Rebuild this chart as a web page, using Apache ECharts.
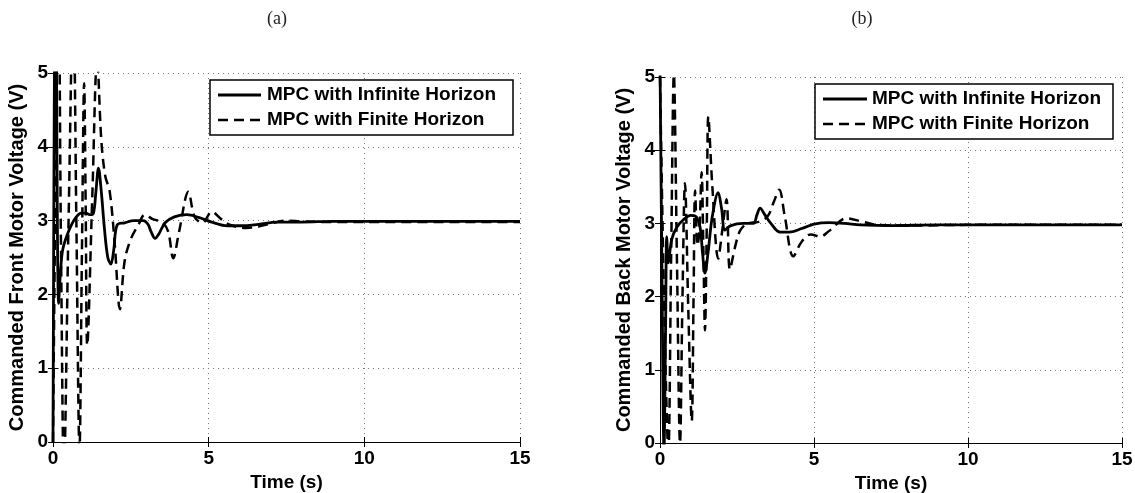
<!DOCTYPE html>
<html><head><meta charset="utf-8">
<script src="https://cdn.jsdelivr.net/npm/echarts@6/dist/echarts.min.js"></script>
<style>html,body{margin:0;padding:0;background:#fff}#c{width:1135px;height:493px}</style>
</head><body><div id="c"></div>
<script>
// ---- data ----
const seriesNames = ['MPC with Infinite Horizon', 'MPC with Finite Horizon'];
const xTicks = [0, 5, 10, 15];
const yTicks = [0, 1, 2, 3, 4, 5];

// (a) front motor, infinite horizon
const tA_inf = [0, 0.04, 0.08, 0.18, 0.24, 0.31, 0.45, 0.6, 0.75, 0.9, 1.05, 1.2, 1.3, 1.38, 1.46, 1.55, 1.65, 1.76, 1.86, 1.95, 2.06, 2.3, 2.6, 2.9, 3.05, 3.15, 3.28, 3.4, 3.6, 3.9, 4.3, 4.7, 5.1, 5.6, 6.1, 6.6, 7.2, 8, 9, 10, 12, 15];
const vA_inf = [0, 4.5, 6.5, 1.88, 2.3, 2.6, 2.8, 2.95, 3.05, 3.1, 3.1, 3.08, 3.1, 3.4, 3.71, 3.4, 2.9, 2.5, 2.41, 2.6, 2.94, 2.97, 3.0, 3.0, 2.95, 2.85, 2.76, 2.82, 2.97, 3.05, 3.08, 3.04, 2.98, 2.93, 2.93, 2.95, 2.98, 2.98, 2.99, 2.99, 2.99, 2.99];
// (a) front motor, finite horizon
const tA_fin = [0, 0.08, 0.17, 0.26, 0.35, 0.5, 0.65, 0.75, 0.85, 0.93, 1.0, 1.05, 1.1, 1.26, 1.42, 1.55, 1.68, 1.82, 1.98, 2.15, 2.3, 2.5, 2.75, 2.95, 3.2, 3.5, 3.7, 3.86, 4.05, 4.35, 4.55, 4.8, 5.1, 5.4, 5.7, 6.2, 6.6, 7.0, 7.5, 8, 9, 15];
const vA_fin = [0, 3.5, 6.5, 2.5, -0.4, 3.0, 6.0, 3.0, -0.1, 2.6, 4.86, 3.2, 1.31, 3.3, 5.2, 4.1, 3.6, 3.4, 2.7, 1.8, 2.45, 2.75, 2.95, 3.08, 3.02, 2.98, 2.85, 2.49, 2.85, 3.39, 3.05, 2.97, 3.12, 3.02, 2.94, 2.9, 2.92, 2.96, 3.0, 2.99, 2.98, 2.98];

// (b) back motor, infinite horizon
const tB_inf = [0, 0.06, 0.13, 0.18, 0.22, 0.27, 0.38, 0.55, 0.76, 1.0, 1.15, 1.3, 1.38, 1.46, 1.56, 1.7, 1.89, 2.0, 2.11, 2.3, 2.7, 3.03, 3.15, 3.25, 3.4, 3.6, 3.9, 4.2, 4.6, 5.0, 5.5, 6.0, 6.5, 7.5, 9, 12, 15];
const vB_inf = [5.2, 2.5, -0.1, 1.5, 2.82, 2.46, 2.78, 2.95, 3.05, 3.11, 3.1, 2.95, 2.6, 2.32, 2.6, 3.1, 3.42, 3.2, 2.91, 2.97, 3.0, 3.0, 3.12, 3.21, 3.12, 3.0, 2.88, 2.88, 2.93, 2.99, 3.01, 3.0, 2.98, 2.97, 2.98, 2.98, 2.98];
// (b) back motor, finite horizon
const tB_fin = [0, 0.13, 0.27, 0.36, 0.45, 0.55, 0.65, 0.73, 0.81, 0.92, 1.03, 1.09, 1.14, 1.22, 1.28, 1.35, 1.41, 1.46, 1.52, 1.57, 1.7, 1.89, 2.02, 2.16, 2.27, 2.45, 2.6, 2.84, 3.2, 3.5, 3.7, 3.87, 4.05, 4.33, 4.6, 4.9, 5.2, 5.5, 6.06, 6.6, 7.05, 8, 10, 15];
const vB_fin = [5.0, 2.0, -0.1, 2.5, 5.03, 2.5, 0.0, 2.0, 3.55, 1.8, 0.3, 2.0, 3.45, 2.7, 2.9, 3.7, 2.6, 1.54, 3.0, 4.46, 3.5, 2.52, 2.9, 3.33, 2.37, 2.7, 2.9, 3.0, 3.02, 3.1, 3.3, 3.46, 3.1, 2.55, 2.75, 2.85, 2.82, 2.9, 3.07, 3.02, 2.98, 2.97, 2.98, 2.98];

const zip = (t, v) => t.map((x, i) => [x, v[i]]);

const FONT = '"Liberation Sans", Arial, sans-serif';
const gridLine = { show: true, lineStyle: { color: '#777', type: [1, 4], width: 1 } };
const lbl = { color: '#000', fontFamily: FONT, fontWeight: 'bold', fontSize: 19 };
const DASH = [10, 6];

function xAxes(gi) {
  return [
    { gridIndex: gi, type: 'value', min: xTicks[0], max: xTicks[xTicks.length - 1], interval: 5,
      name: 'Time (s)', nameLocation: 'middle', nameGap: 31,
      nameTextStyle: Object.assign({}, lbl),
      axisLine: { lineStyle: { color: '#000', width: 1 } },
      axisTick: { inside: true, length: 5, lineStyle: { color: '#000' } },
      axisLabel: Object.assign({ margin: 7 }, lbl),
      splitLine: gridLine },
    { gridIndex: gi, type: 'value', position: 'top', min: 0, max: 15, interval: 5,
      axisLine: { lineStyle: { color: '#000', width: 1 } },
      axisTick: { inside: true, length: 5, lineStyle: { color: '#000' } },
      axisLabel: { show: false }, splitLine: { show: false } }
  ];
}
function yAxes(gi, name) {
  return [
    { gridIndex: gi, type: 'value', min: yTicks[0], max: yTicks[yTicks.length - 1], interval: 1,
      name: name, nameLocation: 'middle', nameGap: 26,
      nameTextStyle: Object.assign({}, lbl, { fontSize: 20 }),
      axisLine: { show: true, lineStyle: { color: '#000', width: 1 } },
      axisTick: { show: true, inside: true, length: 5, lineStyle: { color: '#000' } },
      axisLabel: Object.assign({ margin: 5 }, lbl),
      splitLine: gridLine },
    { gridIndex: gi, type: 'value', position: 'right', min: 0, max: 5, interval: 1,
      axisLine: { show: true, lineStyle: { color: '#000', width: 1 } },
      axisTick: { show: true, inside: true, length: 5, lineStyle: { color: '#000' } },
      axisLabel: { show: false }, splitLine: { show: false } }
  ];
}
function line(name, data, xi, yi, dashed) {
  return { name: name, type: 'line', xAxisIndex: xi, yAxisIndex: yi, data: data,
    showSymbol: false, symbol: 'none', smooth: 0.35, clip: true, animation: false,
    lineStyle: { color: '#000', width: dashed ? 2.5 : 2.8, type: dashed ? DASH : 'solid' },
    itemStyle: { color: '#000' } };
}
// legend box drawn as graphic (MATLAB style)
function legendBox(x, y, w, h, lineX0, lineX1, textX) {
  const row1 = y + 15, row2 = y + 40;
  return [
    { type: 'rect', shape: { x: x, y: y, width: w, height: h }, style: { fill: '#fff', stroke: '#000', lineWidth: 1.5 }, z: 100 },
    { type: 'line', shape: { x1: lineX0, y1: row1, x2: lineX1, y2: row1 }, style: { stroke: '#000', lineWidth: 2.8 }, z: 101 },
    { type: 'line', shape: { x1: lineX0, y1: row2, x2: lineX1, y2: row2 }, style: { stroke: '#000', lineWidth: 2.5, lineDash: DASH }, z: 101 },
    { type: 'text', x: textX, y: row1, style: { text: seriesNames[0], font: 'bold 19px ' + FONT, fill: '#000', verticalAlign: 'middle' }, z: 101 },
    { type: 'text', x: textX, y: row2, style: { text: seriesNames[1], font: 'bold 19px ' + FONT, fill: '#000', verticalAlign: 'middle' }, z: 101 }
  ];
}

const chart = echarts.init(document.getElementById('c'), null, { renderer: 'canvas' });
chart.setOption({
  animation: false,
  backgroundColor: '#fff',
  graphic: [
    { type: 'text', x: 277, y: 19, style: { text: '(a)', font: '18px "Liberation Serif", "Times New Roman", serif', fill: '#222', align: 'center', verticalAlign: 'middle' } },
    { type: 'text', x: 862, y: 19, style: { text: '(b)', font: '18px "Liberation Serif", "Times New Roman", serif', fill: '#222', align: 'center', verticalAlign: 'middle' } }
  ].concat(legendBox(210, 80, 303, 55, 218, 261, 267))
   .concat(legendBox(815, 84, 298, 55, 823, 867, 872)),
  grid: [
    { left: 53, top: 73, width: 467, height: 369, show: false, containLabel: false, outerBoundsMode: 'none' },
    { left: 660, top: 77, width: 462, height: 366, show: false, containLabel: false, outerBoundsMode: 'none' }
  ],
  xAxis: xAxes(0).concat(xAxes(1)),
  yAxis: yAxes(0, 'Commanded Front Motor Voltage (V)').concat(yAxes(1, 'Commanded Back Motor Voltage (V)')),
  series: [
    line(seriesNames[0], zip(tA_inf, vA_inf), 0, 0, false),
    line(seriesNames[1], zip(tA_fin, vA_fin), 0, 0, true),
    line(seriesNames[0], zip(tB_inf, vB_inf), 2, 2, false),
    line(seriesNames[1], zip(tB_fin, vB_fin), 2, 2, true)
  ]
});
</script></body></html>
